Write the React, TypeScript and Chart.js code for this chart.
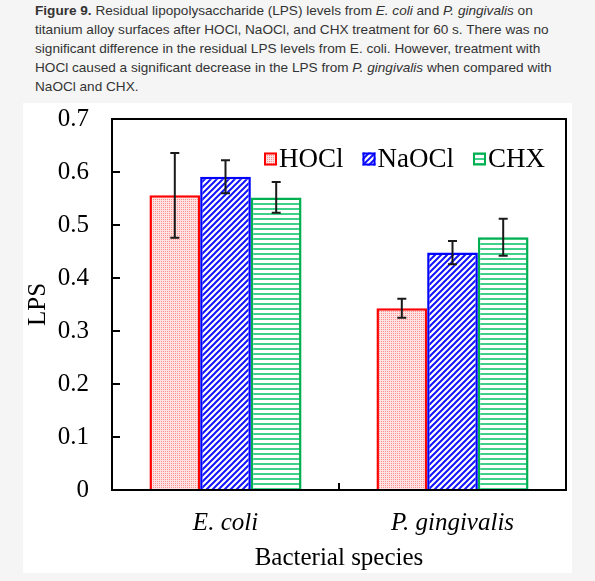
import { useEffect, useRef } from 'react';
import { Chart, registerables, type ChartConfiguration, type Plugin } from 'chart.js';

Chart.register(...registerables);

const species = ['E. coli', 'P. gingivalis'];
const treatments = ['HOCl', 'NaOCl', 'CHX'];
const hoclValues = [0.556, 0.343];
const hoclErrors = [0.08, 0.018];
const naoclValues = [0.591, 0.448];
const naoclErrors = [0.031, 0.022];
const chxValues = [0.552, 0.477];
const chxErrors = [0.029, 0.035];
const yTicks = [0, 0.1, 0.2, 0.3, 0.4, 0.5, 0.6, 0.7];

const errorSets = [hoclErrors, naoclErrors, chxErrors];
const SERIF = '"Liberation Serif", "Times New Roman", serif';

function makePattern(kind: 'dots' | 'diag' | 'lines'): CanvasPattern | string {
    const c = document.createElement('canvas');
    const g = c.getContext('2d');
    if (!g) return '#fff';
    if (kind === 'dots') {
        c.width = 2;
        c.height = 2;
        g.fillStyle = '#ffe2e2';
        g.fillRect(0, 0, 2, 2);
        g.fillStyle = '#ff8f8f';
        g.fillRect(0, 0, 1, 1);
    } else if (kind === 'diag') {
        c.width = 6;
        c.height = 6;
        g.fillStyle = '#ffffff';
        g.fillRect(0, 0, 6, 6);
        g.strokeStyle = '#1414ff';
        g.lineWidth = 2;
        g.beginPath();
        g.moveTo(-1, 7);
        g.lineTo(7, -1);
        g.moveTo(-1, 1);
        g.lineTo(1, -1);
        g.moveTo(5, 7);
        g.lineTo(7, 5);
        g.stroke();
    } else {
        c.width = 4;
        c.height = 5;
        g.fillStyle = '#ffffff';
        g.fillRect(0, 0, 4, 5);
        g.fillStyle = '#3fd08a';
        g.fillRect(0, 0, 4, 2);
    }
    return g.createPattern(c, 'repeat') ?? '#fff';
}

// error bars, box frame, inward ticks and the legend inside the plot
const decorPlugin: Plugin<'bar'> = {
    id: 'decor',
    afterDatasetsDraw(chart) {
        const { ctx, chartArea: a, scales } = chart;
        const y = scales.y;
        ctx.save();

        ctx.strokeStyle = '#1a1a1a';
        ctx.lineWidth = 2;
        chart.data.datasets.forEach((ds, i) => {
            const meta = chart.getDatasetMeta(i);
            meta.data.forEach((bar, j) => {
                const v = ds.data[j] as number;
                const e = errorSets[i][j];
                const top = y.getPixelForValue(v + e);
                const bot = y.getPixelForValue(v - e);
                const x = bar.x;
                ctx.beginPath();
                ctx.moveTo(x, top);
                ctx.lineTo(x, bot);
                ctx.moveTo(x - 4.5, top);
                ctx.lineTo(x + 4.5, top);
                ctx.moveTo(x - 4.5, bot);
                ctx.lineTo(x + 4.5, bot);
                ctx.stroke();
            });
        });

        ctx.strokeStyle = '#000';
        ctx.lineWidth = 2;
        ctx.strokeRect(a.left, a.top, a.width, a.height);
        ctx.beginPath();
        yTicks.forEach((t) => {
            if (t <= 0 || t >= 0.7) return;
            const py = y.getPixelForValue(t);
            ctx.moveTo(a.left, py);
            ctx.lineTo(a.left + 8, py);
        });
        const mid = (scales.x.getPixelForValue(0) + scales.x.getPixelForValue(1)) / 2;
        ctx.moveTo(mid, a.bottom);
        ctx.lineTo(mid, a.bottom - 7);
        ctx.stroke();

        // legend
        ctx.font = `27px ${SERIF}`;
        ctx.textBaseline = 'middle';
        ctx.textAlign = 'left';
        let lx = a.left + 152;
        const cy = a.top + 40;
        chart.data.datasets.forEach((ds) => {
            ctx.fillStyle = ds.backgroundColor as CanvasPattern;
            ctx.fillRect(lx, cy - 6.5, 13, 13);
            ctx.strokeStyle = ds.borderColor as string;
            ctx.lineWidth = 2;
            ctx.strokeRect(lx + 1, cy - 5.5, 11, 11);
            ctx.fillStyle = '#000';
            const label = ds.label ?? '';
            ctx.fillText(label, lx + 15, cy + 1);
            lx += 15 + ctx.measureText(label).width + 19;
        });
        ctx.restore();
    },
};

function BarChart() {
    const chartRef = useRef<HTMLCanvasElement>(null);
    const chartInstance = useRef<Chart | null>(null);

    useEffect(() => {
        if (!chartRef.current) return;
        if (chartInstance.current) chartInstance.current.destroy();
        const ctx = chartRef.current.getContext('2d');
        if (!ctx) return;

        const config: ChartConfiguration<'bar'> = {
            type: 'bar',
            data: {
                labels: species,
                datasets: [
                    {
                        label: treatments[0],
                        data: hoclValues,
                        backgroundColor: makePattern('dots'),
                        borderColor: '#ff0000',
                        borderWidth: 2.5,
                    },
                    {
                        label: treatments[1],
                        data: naoclValues,
                        backgroundColor: makePattern('diag'),
                        borderColor: '#0000ff',
                        borderWidth: 2.5,
                    },
                    {
                        label: treatments[2],
                        data: chxValues,
                        backgroundColor: makePattern('lines'),
                        borderColor: '#00b050',
                        borderWidth: 2.5,
                    },
                ],
            },
            options: {
                animation: false,
                responsive: false,
                maintainAspectRatio: false,
                categoryPercentage: 0.67,
                barPercentage: 1,
                layout: { padding: { top: 16, right: 6, left: 0, bottom: 0 } },
                plugins: {
                    legend: { display: false },
                    tooltip: { enabled: false },
                },
                scales: {
                    x: {
                        grid: { display: false, drawTicks: false },
                        border: { display: false },
                        ticks: {
                            color: '#000',
                            padding: 18,
                            font: { family: SERIF, size: 25, style: 'italic' },
                        },
                        title: {
                            display: true,
                            text: 'Bacterial species',
                            color: '#000',
                            font: { family: SERIF, size: 25 },
                            padding: { top: 4, bottom: 0 },
                        },
                        afterFit: (s) => {
                            s.height = 83;
                        },
                    },
                    y: {
                        min: 0,
                        max: 0.7,
                        grid: { display: false, drawTicks: false },
                        border: { display: false },
                        ticks: {
                            stepSize: 0.1,
                            color: '#000',
                            padding: 23,
                            font: { family: SERIF, size: 25 },
                            callback: (v) => (Number(v) === 0 ? '0' : Number(v).toFixed(1)),
                        },
                        title: {
                            display: true,
                            text: 'LPS',
                            color: '#000',
                            font: { family: SERIF, size: 25 },
                            padding: { top: 0, bottom: 0 },
                        },
                        afterFit: (s) => {
                            s.width = 89;
                            s.paddingTop = 0;
                            s.paddingBottom = 0;
                        },
                    },
                },
            },
            plugins: [decorPlugin],
        };

        chartInstance.current = new Chart(ctx, config);
        return () => {
            if (chartInstance.current) {
                chartInstance.current.destroy();
                chartInstance.current = null;
            }
        };
    }, []);

    return <canvas ref={chartRef} width={549} height={470}></canvas>;
}

export default function App() {
    return (
        <div
            style={{
                position: 'absolute',
                left: 0,
                top: 0,
                width: 595,
                height: 581,
                background: '#f5f5f5',
                overflow: 'hidden',
            }}
        >
            <div
                style={{
                    position: 'absolute',
                    left: 35,
                    top: 1,
                    font: '13.6px "Liberation Sans", Arial, sans-serif',
                    lineHeight: '19px',
                    color: '#333',
                    whiteSpace: 'nowrap',
                }}
            >
                <b>Figure 9.</b> Residual lipopolysaccharide (LPS) levels from <i>E. coli</i> and{' '}
                <i>P. gingivalis</i> on
                <br />
                titanium alloy surfaces after HOCl, NaOCl, and CHX treatment for 60 s. There was no
                <br />
                significant difference in the residual LPS levels from E. coli. However, treatment with
                <br />
                HOCl caused a significant decrease in the LPS from <i>P. gingivalis</i> when compared with
                <br />
                NaOCl and CHX.
            </div>
            <div
                style={{
                    position: 'absolute',
                    left: 23,
                    top: 103,
                    width: 549,
                    height: 470,
                    background: '#fff',
                }}
            >
                <BarChart />
            </div>
        </div>
    );
}
